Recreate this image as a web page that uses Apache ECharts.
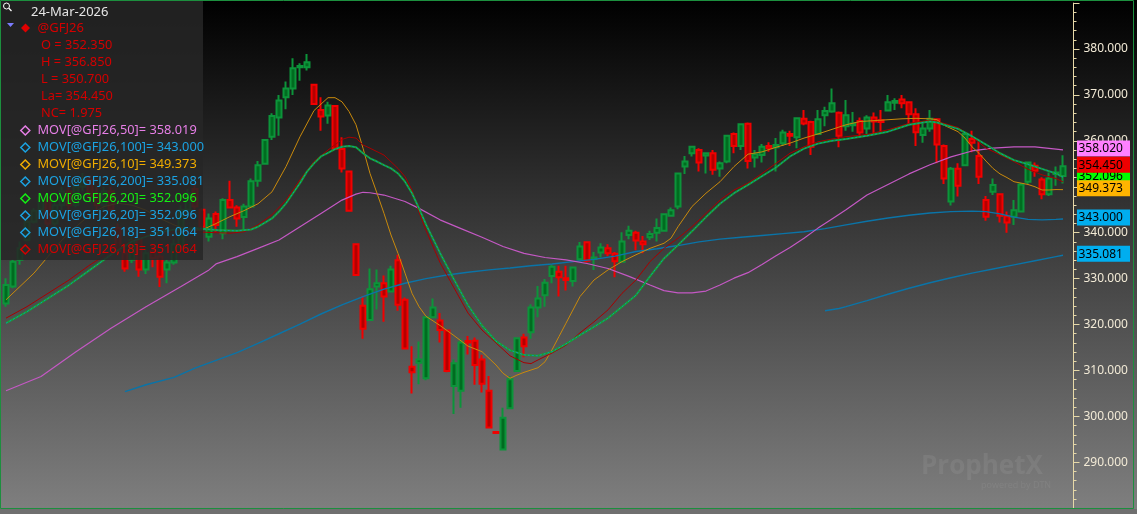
<!DOCTYPE html>
<html><head><meta charset="utf-8">
<script src="https://cdn.jsdelivr.net/npm/echarts@6/dist/echarts.min.js"></script>
<style>
html,body{margin:0;padding:0;background:#000;}
#c{width:1137px;height:514px;background:linear-gradient(to bottom,#000000 0%,#808080 100%);}
</style></head><body><div id="c"></div>
<script>
// ---- candle data (oldest -> newest) ----
const opens  = [324.6,328.3,334.1,338.4,342.4,345.0,347.0,342.0,346.0,349.0,346.0,350.0,351.5,348.5,346.0,349.0,341.0,335.5,334.1,338.6,332.0,336.0,334.8,332.0,333.5,337.0,345.0,349.5,345.0,339.1,
344.1,339.9,347.1,345.5,343.4,345.7,351.3,355.0,360.9,365.1,369.5,371.4,376.0,376.0,372.2,366.7,365.5,367.6,358.2,353.3,337.5,324.1,321.0,328.3,329.0,327.2,334.0,325.4,310.8,311.7,
308.3,321.6,320.9,318.7,306.6,305.6,316.4,316.5,312.4,305.6,296.6,292.8,301.8,309.9,317.2,318.3,323.7,326.4,330.6,331.5,330.1,329.5,334.2,337.9,334.3,335.7,336.6,335.4,333.7,339.5,
340.0,338.1,339.0,340.0,340.4,343.7,345.7,354.4,357.3,358.0,356.8,357.3,354.0,355.5,361.5,358.9,363.7,356.4,356.9,358.9,358.6,359.5,361.5,360.8,364.8,364.1,361.5,365.6,366.4,366.1,
363.2,363.4,364.3,362.7,365.1,364.5,366.6,368.3,369.0,368.4,365.8,361.3,362.7,364.7,358.9,346.8,353.9,354.7,360.4,356.7,347.1,348.9,348.4,343.6,343.5,344.6,351.1,354.6,351.6,348.4,352.8,352.35];
const highs  = [330.1,334.1,338.1,343.1,345.3,348.5,348.0,347.0,350.0,351.0,351.5,353.0,352.5,350.0,350.0,350.0,342.0,337.7,339.1,339.0,336.5,337.5,335.9,334.1,338.5,346.0,349.5,350.5,345.3,344.2,
344.6,347.5,351.3,346.0,346.3,351.8,355.6,360.3,366.0,370.0,372.9,378.0,376.9,378.9,372.2,369.5,368.5,367.7,360.8,353.3,337.5,326.2,332.2,332.0,330.7,332.8,335.2,325.9,315.3,316.3,
321.8,325.7,322.5,318.7,312.4,316.9,317.5,317.2,313.4,308.8,296.6,301.9,308.8,317.2,318.0,324.4,328.4,329.9,333.0,332.8,332.8,332.6,338.0,338.1,335.8,337.7,337.5,335.8,340.1,341.5,
340.4,339.3,340.4,343.1,344.2,345.5,353.1,356.7,358.9,358.4,357.5,358.0,355.5,361.3,361.8,363.7,364.0,358.0,359.3,359.7,360.6,362.4,362.2,365.1,366.7,364.4,366.7,367.4,371.4,366.4,
368.9,366.3,365.1,365.6,366.2,366.7,370.0,369.3,370.0,368.5,367.1,364.2,366.7,364.8,359.2,354.3,355.1,361.6,362.2,359.8,348.0,351.8,348.4,344.6,347.1,350.8,355.5,355.3,352.1,353.1,354.4,356.85];
const lows   = [323.9,327.9,333.0,338.1,342.0,344.0,341.0,341.0,345.0,345.0,345.5,349.0,347.0,345.0,345.0,344.0,335.0,331.5,333.4,330.4,331.0,332.5,328.2,329.0,333.0,336.5,344.0,345.0,340.9,338.1,
340.2,338.6,345.3,341.3,340.6,345.7,350.0,355.0,360.2,361.1,366.9,370.0,373.1,375.3,367.8,362.2,363.7,358.0,353.1,344.6,330.8,316.9,320.9,323.3,320.6,327.0,323.0,314.6,305.0,307.0,
307.9,321.4,316.1,309.6,300.5,301.9,313.5,306.9,305.2,297.4,296.4,292.7,301.6,309.8,312.9,316.9,321.6,323.9,329.0,326.1,327.4,328.3,333.9,333.5,331.9,334.6,334.9,330.3,333.5,338.6,
336.2,335.5,338.4,338.1,340.2,343.5,345.1,352.8,356.6,353.3,352.9,352.6,352.2,355.1,357.3,358.0,354.0,354.2,355.3,357.6,353.3,358.9,358.9,358.4,363.4,356.9,361.3,363.2,366.1,358.6,
362.2,362.0,360.9,361.5,361.3,362.0,366.4,366.7,367.1,363.5,358.9,359.6,362.0,355.1,350.6,345.9,347.9,354.5,357.5,350.6,342.6,348.2,342.2,340.0,341.7,344.4,350.6,352.2,347.3,348.0,350.2,350.7];
const closes = [328.6,333.7,336.6,342.4,344.8,347.5,342.0,346.0,349.0,346.0,350.0,351.5,348.0,346.0,349.0,345.0,336.0,332.2,338.4,332.0,335.5,334.5,330.4,333.5,337.5,345.0,348.5,345.7,341.3,343.1,
341.7,347.1,345.5,343.1,345.7,351.2,354.7,360.2,365.4,368.8,371.4,375.8,376.3,377.1,368.0,365.3,367.7,358.3,354.0,344.8,330.8,319.1,327.7,329.0,326.1,332.0,324.3,314.8,309.6,312.4,
321.6,323.7,318.8,309.9,311.6,316.1,316.1,311.2,307.1,297.6,296.4,299.7,308.1,317.0,315.3,323.7,325.7,329.1,332.6,330.3,329.7,332.4,337.0,333.9,334.6,336.8,335.5,333.8,338.1,340.4,
338.3,337.5,339.7,341.0,344.0,344.9,352.9,355.5,358.7,355.3,357.3,353.7,355.1,361.1,358.9,363.6,355.6,357.1,358.7,358.4,359.1,361.8,361.1,364.9,363.8,358.7,364.7,366.5,368.2,361.1,
365.6,363.8,361.8,365.1,364.2,364.1,368.4,368.7,368.2,365.8,361.9,362.7,364.8,359.2,351.8,353.9,350.2,361.5,359.6,352.2,343.5,350.4,343.7,342.2,344.9,350.5,355.3,353.5,348.4,351.8,353.1,354.45];

// ---- moving averages: [bar index, value] ----
const ma10 = [[0,325.4],[2,328.3],[4,331.2],[6,334.8],[8,338.4],[10,341.3],[12,343.9],[14,345.7],[16,346.4],[18,346.0],[20,344.9],[22,343.1],[24,341.7],[26,340.6],[28,340.6],[30,342.0],[32,343.5],[34,344.8],[36,346.3],[38,348.9],[40,354.4],[42,360.9],[44,366.6],[46,369.4],[47,369.4],[48,368.5],[49,366.4],[50,363.5],[51,358.4],[52,352.9],[53,348.6],[54,344.2],[55,339.5],[56,335.5],[57,331.2],[58,326.8],[59,323.9],[60,321.8],[62,319.8],[64,317.6],[66,315.3],[68,314.1],[70,311.2],[71,309.4],[72,308.3],[73,309.0],[74,309.6],[76,310.6],[77,311.9],[78,314.5],[79,317.4],[80,320.3],[82,326.1],[84,329.7],[86,331.9],[88,333.7],[90,335.2],[92,336.6],[94,337.7],[95,338.8],[96,341.3],[98,345.7],[100,348.6],[102,351.1],[104,354.4],[106,357.1],[108,357.6],[110,358.6],[112,359.5],[114,360.6],[116,361.5],[118,362.5],[120,363.5],[122,364.2],[125,364.5],[128,364.8],[130,364.9],[132,364.8],[133,364.6],[134,363.4],[135,362.7],[136,362.0],[137,360.6],[138,358.7],[139,357.3],[140,355.6],[141,354.0],[142,352.8],[143,352.0],[144,351.1],[145,350.8],[146,350.5],[147,350.0],[148,349.3],[149,349.3],[150,349.4],[151,349.373]];
const ma20 = [[0,320.3],[3,322.8],[6,325.7],[9,328.6],[12,331.9],[15,335.2],[18,338.1],[21,339.7],[24,340.7],[27,341.0],[30,340.6],[33,340.4],[35,340.7],[36,341.3],[37,342.2],[38,343.1],[39,344.6],[40,346.4],[41,348.6],[42,350.8],[43,353.3],[44,355.1],[45,356.6],[46,357.4],[47,358.2],[48,358.7],[49,358.9],[50,358.6],[51,357.3],[52,356.2],[53,355.5],[54,354.7],[55,354.0],[56,352.9],[57,351.1],[58,348.6],[59,345.3],[60,341.8],[62,335.6],[64,329.8],[66,324.2],[68,319.8],[70,316.4],[72,314.4],[74,313.4],[76,313.2],[78,314.1],[80,315.8],[82,317.7],[84,319.5],[86,321.4],[88,323.9],[90,326.4],[92,330.5],[94,334.4],[96,337.3],[98,340.3],[100,343.4],[102,346.3],[104,348.6],[106,350.4],[108,352.3],[110,354.2],[112,356.6],[114,358.3],[116,359.4],[118,360.0],[120,360.4],[123,361.1],[126,362.0],[129,363.5],[131,364.0],[132,364.2],[133,364.0],[134,363.5],[136,362.6],[138,361.0],[140,359.2],[142,357.3],[144,355.8],[146,354.9],[148,353.9],[150,352.9],[151,352.096]];
const ma18 = [[0,321.4],[3,323.9],[6,326.8],[9,329.7],[12,333.0],[15,335.9],[18,338.4],[21,339.9],[24,340.2],[27,340.2],[30,340.0],[32,339.9],[34,340.2],[36,341.7],[38,343.9],[40,347.1],[42,351.5],[44,355.5],[46,358.0],[48,360.3],[49,360.8],[50,360.6],[51,359.1],[52,358.4],[54,356.9],[56,354.0],[57,352.2],[58,349.3],[59,344.5],[60,340.5],[62,333.5],[64,328.0],[66,322.5],[68,318.8],[70,316.0],[72,313.2],[74,311.7],[75,311.5],[76,312.3],[78,313.8],[80,315.5],[82,318.2],[84,320.6],[86,323.2],[88,326.8],[90,329.7],[92,333.7],[94,336.6],[96,338.8],[98,341.3],[100,344.2],[102,347.1],[104,349.3],[106,350.8],[108,352.9],[110,355.1],[112,357.3],[114,358.7],[116,359.8],[118,360.4],[120,360.9],[123,361.4],[126,362.4],[129,363.8],[132,364.5],[134,363.8],[136,362.9],[138,360.9],[140,358.4],[142,357.0],[144,355.5],[146,353.8],[148,352.6],[150,351.8],[151,351.064]];
const ma50 = [[0,305.6],[5,308.7],[10,314.1],[15,319.2],[20,323.9],[25,328.3],[29,331.9],[30,333.2],[33,334.8],[36,336.6],[39,338.4],[42,341.3],[45,344.2],[48,347.1],[50,348.4],[51,348.8],[52,348.7],[54,348.2],[57,346.8],[59,345.3],[62,342.8],[65,340.9],[68,339.0],[71,337.0],[74,335.5],[77,334.6],[80,334.1],[83,333.3],[86,332.2],[89,330.5],[92,328.6],[94,327.4],[96,326.9],[98,326.9],[100,327.3],[102,328.6],[104,330.1],[106,331.3],[108,333.1],[110,335.0],[112,336.8],[114,338.8],[116,341.0],[118,343.0],[120,345.0],[123,348.2],[126,350.5],[129,352.8],[132,354.8],[135,356.5],[138,357.8],[141,358.4],[144,358.7],[147,358.7],[151,358.020]];
const ma100 = [[17,305.4],[20,306.9],[24,308.5],[27,310.5],[30,312.2],[33,313.9],[36,315.9],[39,318.0],[42,320.1],[45,322.3],[48,324.3],[51,326.1],[54,327.7],[57,329.0],[60,330.0],[63,330.8],[66,331.4],[69,331.9],[72,332.3],[75,332.8],[78,333.2],[81,333.7],[84,334.2],[87,334.9],[90,335.9],[93,336.5],[96,337.2],[99,338.0],[102,338.6],[105,339.0],[108,339.4],[111,339.8],[114,340.2],[117,340.9],[120,341.7],[123,342.5],[126,343.2],[129,343.8],[132,344.3],[135,344.6],[138,344.7],[140,344.6],[142,344.1],[144,343.4],[146,342.9],[148,342.8],[150,342.9],[151,343.000]];
const ma200 = [[117,323.0],[119,323.5],[120,323.9],[123,325.2],[126,326.6],[129,327.9],[132,329.1],[135,330.2],[138,331.2],[141,332.1],[144,333.0],[147,333.9],[150,334.8],[151,335.081]];

// ---- texts ----
const titleDate = '24-Mar-2026';
const symbol = '@GFJ26';
const quoteLines = ['O = 352.350','H = 356.850','L = 350.700','La= 354.450','NC= 1.975'];
const maLegend = [
  {label:'MOV[@GFJ26,50]= 358.019', color:'#e77fe7'},
  {label:'MOV[@GFJ26,100]= 343.000', color:'#1ba3e3'},
  {label:'MOV[@GFJ26,10]= 349.373', color:'#f0ac00'},
  {label:'MOV[@GFJ26,200]= 335.081', color:'#1ba3e3'},
  {label:'MOV[@GFJ26,20]= 352.096', color:'#14f014'},
  {label:'MOV[@GFJ26,20]= 352.096', color:'#1ba3e3'},
  {label:'MOV[@GFJ26,18]= 351.064', color:'#1ba3e3'},
  {label:'MOV[@GFJ26,18]= 351.064', color:'#d40000'}
];
const yMin = 280, yMax = 390, yStep = 10;

const nBars = opens.length;
const categories = [];
for (let i = 0; i <= nBars; i++) categories.push(String(i));
const candles = opens.map((o, i) => [o, closes[i], lows[i], highs[i]]);
const last = a => a[a.length - 1][1];

const chart = echarts.init(document.getElementById('c'), null, {renderer: 'canvas'});
const FONT = '"Noto Sans", "Liberation Sans", sans-serif';
const lineSeries = (name, data, color, width, z, extra) => Object.assign({
  name, type: 'line', data, symbol: 'none', silent: true, z,
  lineStyle: {color, width}, animation: false
}, extra || {});

chart.setOption({
  animation: false,
  backgroundColor: 'transparent',
  grid: {left: 2.5, right: 63.5, top: 3.07, height: 505.2, containLabel: false, outerBoundsMode: 'none'},
  xAxis: {type: 'category', data: categories, boundaryGap: true,
    axisLine: {show: false}, axisTick: {show: false}, axisLabel: {show: false}, splitLine: {show: false}},
  yAxis: {type: 'value', position: 'right', min: yMin, max: yMax, interval: yStep, scale: true,
    axisLine: {show: true, lineStyle: {color: '#e6d8a8', width: 1}},
    axisTick: {show: true, length: 6, lineStyle: {color: '#e6d8a8'}},
    minorTick: {show: true, splitNumber: 5, length: 3, lineStyle: {color: '#e6d8a8'}},
    splitLine: {show: false},
    axisLabel: {show: true, color: '#f2ead6', fontSize: 12, fontFamily: FONT, margin: 10,
      showMinLabel: false, showMaxLabel: false, formatter: v => v.toFixed(3)}},
  series: [
    {name: symbol, type: 'candlestick', data: candles, barWidth: 4.6, z: 2,
      itemStyle: {color: '#006c20', color0: '#b30000', borderColor: '#0c943a', borderColor0: '#f20000', borderWidth: 2}},
    lineSeries('MA200', ma200, '#0a74a8', 1.4, 3),
    lineSeries('MA100', ma100, '#0a74a8', 1.4, 3),
    lineSeries('MA50', ma50, '#c458c4', 1.2, 3),
    lineSeries('MA10', ma10, '#c98a0c', 1, 4),
    lineSeries('MA18', ma18, '#a80000', 1, 4),
    lineSeries('MA20', ma20, '#16a030', 2, 5),
    lineSeries('MA20b', ma20, '#0b8fa6', 1, 6, {lineStyle: {color: '#0b96b0', width: 1, type: [2, 2]}})
  ]
});

// ---- overlay: legend panel, value tags, frame, watermark ----
const G = [];
G.push({type: 'rect', z: 100, shape: {x: 0, y: 0, width: 203, height: 260}, style: {fill: 'rgba(38,38,38,0.86)'}});
// magnifier
G.push({type: 'circle', z: 101, shape: {cx: 6.5, cy: 6, r: 3}, style: {fill: 'none', stroke: '#ffffff', lineWidth: 1}});
G.push({type: 'line', z: 101, shape: {x1: 8.8, y1: 8.3, x2: 11.5, y2: 11}, style: {stroke: '#ffffff', lineWidth: 1.3}});
G.push({type: 'text', z: 101, style: {text: titleDate, x: 31, y: 12, fill: '#e6e6e6', font: '13px ' + FONT, verticalAlign: 'middle'}});
G.push({type: 'polygon', z: 101, shape: {points: [[7, 23], [14, 23], [10.5, 27]]}, style: {fill: '#7b7bff'}});
G.push({type: 'polygon', z: 101, shape: {points: [[25.5, 23.5], [30, 28], [25.5, 32.5], [21, 28]]}, style: {fill: '#e00000'}});
G.push({type: 'text', z: 101, style: {text: symbol, x: 37.5, y: 28.5, fill: '#d40000', font: '13px ' + FONT, verticalAlign: 'middle'}});
quoteLines.forEach((t, k) => G.push({type: 'text', z: 101,
  style: {text: t, x: 41, y: 45.5 + 17 * k, fill: '#d40000', font: '12.8px ' + FONT, verticalAlign: 'middle'}}));
maLegend.forEach((m, k) => {
  const y = 130.5 + 17 * k;
  G.push({type: 'polygon', z: 101, shape: {points: [[25.3, y - 4.5], [29.8, y], [25.3, y + 4.5], [20.8, y]]},
    style: {fill: 'none', stroke: m.color, lineWidth: 1.5}});
  G.push({type: 'text', z: 101, style: {text: m.label, x: 37.5, y: y, fill: m.color, font: '12.8px ' + FONT, verticalAlign: 'middle'}});
});
// value tags on the price axis
const tags = [
  {v: last(ma20), bg: '#00ff00', z: 110},
  {v: last(ma50), bg: '#ff80ff', z: 111},
  {v: closes[nBars - 1], bg: '#ee0000', z: 112},
  {v: last(ma10), bg: '#ffb400', z: 113},
  {v: last(ma100), bg: '#00aeef', z: 114},
  {v: last(ma200), bg: '#00aeef', z: 115}
];
tags.forEach(t => {
  const y = chart.convertToPixel({yAxisIndex: 0}, t.v) - 1.5;
  G.push({type: 'rect', z: t.z, shape: {x: 1077, y: y - 8, width: 53, height: 16}, style: {fill: t.bg}});
  G.push({type: 'text', z: t.z, style: {text: t.v.toFixed(3), x: 1078.5, y: y + 0.5, fill: '#000000', font: '12px ' + FONT, verticalAlign: 'middle'}});
});
// frame
G.push({type: 'rect', z: 120, shape: {x: 0.5, y: 0.5, width: 1133, height: 508}, style: {fill: 'none', stroke: '#1c8f3e', lineWidth: 1}});
G.push({type: 'rect', z: 119, shape: {x: 0, y: 509, width: 1137, height: 5}, style: {fill: '#6f6f6f'}});
// watermark
G.push({type: 'text', z: 90, style: {text: 'ProphetX', x: 921, y: 467, fill: 'rgba(255,255,255,0.07)', font: 'bold 26px "Open Sans", sans-serif', verticalAlign: 'middle'}});
G.push({type: 'text', z: 90, style: {text: 'powered by DTN', x: 981, y: 485, fill: 'rgba(255,255,255,0.07)', font: '9px "Open Sans", sans-serif', verticalAlign: 'middle'}});

chart.setOption({graphic: G});
</script></body></html>
